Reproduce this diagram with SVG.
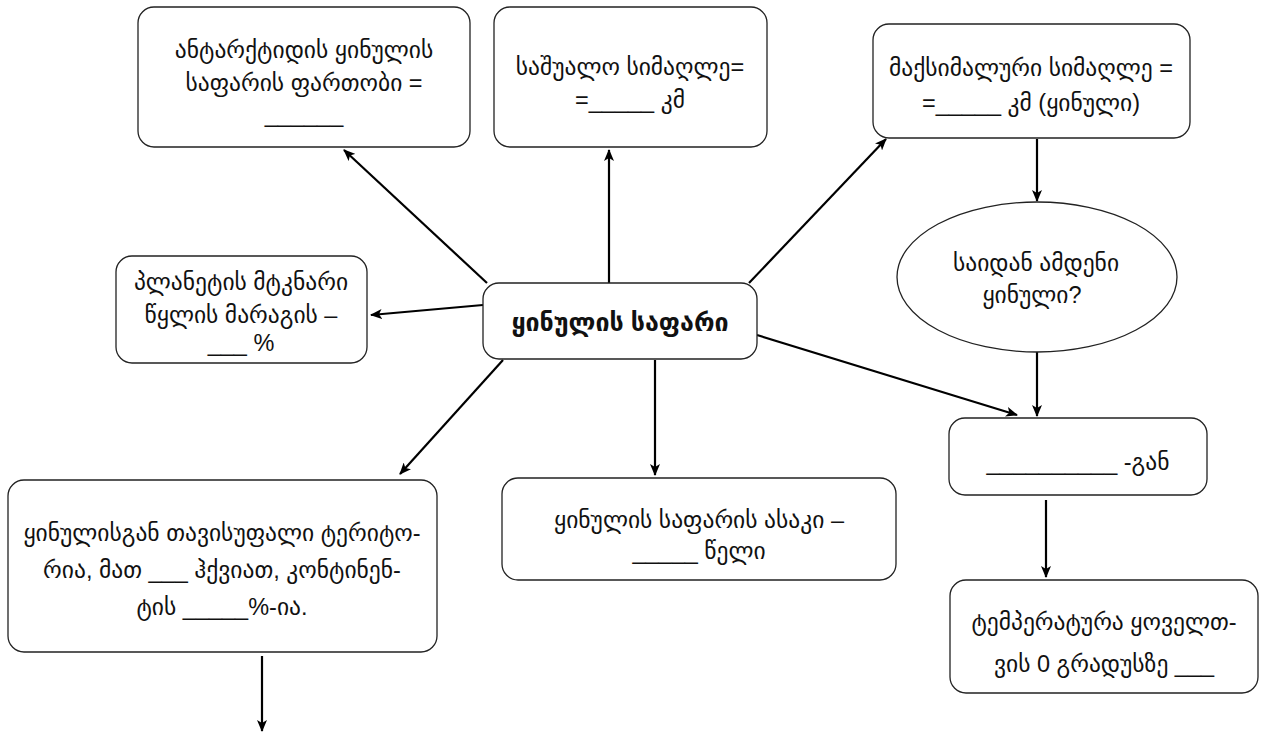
<svg xmlns="http://www.w3.org/2000/svg" width="1263" height="733" viewBox="0 0 1263 733">
  <style>
    .box { fill: #ffffff; stroke: #222222; stroke-width: 1.3; }
    .t { font-family: "Liberation Sans", "DejaVu Sans", sans-serif; font-size: 23.5px; fill: #111111; text-anchor: middle; dominant-baseline: central; }
    .title { font-weight: bold; font-size: 25px; }
    .edge { stroke: #000000; stroke-width: 2.2; fill: none; marker-end: url(#arrow); }
  </style>
  <defs>
    <marker id="arrow" markerWidth="12" markerHeight="10" refX="11" refY="5" orient="auto" markerUnits="userSpaceOnUse" viewBox="0 0 12 10">
      <path d="M0,0 L12,5 L0,10 L3,5 Z" fill="#000000"/>
    </marker>
  </defs>
  <rect width="1263" height="733" fill="#ffffff"/>

  <g id="connectors">
    <line class="edge" x1="487" y1="283" x2="344" y2="150"/>
    <line class="edge" x1="609" y1="283" x2="609" y2="150"/>
    <line class="edge" x1="749" y1="283" x2="886" y2="139"/>
    <line class="edge" x1="483" y1="305" x2="371" y2="315"/>
    <line class="edge" x1="503" y1="360" x2="400" y2="474"/>
    <line class="edge" x1="655" y1="360" x2="655" y2="475"/>
    <line class="edge" x1="757" y1="335" x2="1017" y2="415"/>
    <line class="edge" x1="1037" y1="139" x2="1037" y2="201"/>
    <line class="edge" x1="1037" y1="339" x2="1037" y2="416"/>
    <line class="edge" x1="1046" y1="500" x2="1046" y2="577"/>
    <line class="edge" x1="262" y1="656" x2="262" y2="731"/>
  </g>

  <g id="node-area">
    <rect class="box" x="138" y="7" width="332" height="140" rx="16"/>
    <text class="t" x="304" y="50">ანტარქტიდის ყინულის</text>
    <text class="t" x="304" y="83">საფარის ფართობი =</text>
    <text class="t" x="304" y="114">______</text>
  </g>

  <g id="node-mean-height">
    <rect class="box" x="494" y="7" width="273" height="140" rx="16"/>
    <text class="t" x="630" y="67">საშუალო სიმაღლე=</text>
    <text class="t" x="630" y="100">=_____ კმ</text>
  </g>

  <g id="node-max-height">
    <rect class="box" x="873" y="24" width="317" height="114" rx="16"/>
    <text class="t" x="1031" y="68">მაქსიმალური სიმაღლე =</text>
    <text class="t" x="1031" y="103">=_____ კმ (ყინული)</text>
  </g>

  <g id="node-fresh-water">
    <rect class="box" x="116" y="256" width="251" height="107" rx="16"/>
    <text class="t" x="241" y="282">პლანეტის მტკნარი</text>
    <text class="t" x="241" y="315">წყლის მარაგის –</text>
    <text class="t" x="241" y="343">___ %</text>
  </g>

  <g id="node-center">
    <rect class="box" x="483" y="283" width="274" height="76" rx="16"/>
    <text class="t title" x="620" y="322">ყინულის საფარი</text>
  </g>

  <g id="node-where-from">
    <ellipse class="box" cx="1037" cy="277" rx="140" ry="75"/>
    <text class="t" x="1036" y="263">საიდან ამდენი</text>
    <text class="t" x="1032" y="295">ყინული?</text>
  </g>

  <g id="node-from">
    <rect class="box" x="949" y="418" width="258" height="77" rx="16"/>
    <text class="t" x="1078" y="462">__________ -გან</text>
  </g>

  <g id="node-ice-free">
    <rect class="box" x="8" y="480" width="429" height="172" rx="16"/>
    <text class="t" x="222" y="533">ყინულისგან თავისუფალი ტერიტო-</text>
    <text class="t" x="222" y="570">რია, მათ ___  ჰქვიათ, კონტინენ-</text>
    <text class="t" x="222" y="607">ტის _____%-ია.</text>
  </g>

  <g id="node-age">
    <rect class="box" x="502" y="478" width="394" height="102" rx="16"/>
    <text class="t" x="699" y="520">ყინულის საფარის ასაკი –</text>
    <text class="t" x="699" y="551">_____ წელი</text>
  </g>

  <g id="node-temperature">
    <rect class="box" x="950" y="580" width="308" height="113" rx="16"/>
    <text class="t" x="1104" y="622">ტემპერატურა ყოველთ-</text>
    <text class="t" x="1104" y="664">ვის 0 გრადუსზე ___</text>
  </g>
</svg>
